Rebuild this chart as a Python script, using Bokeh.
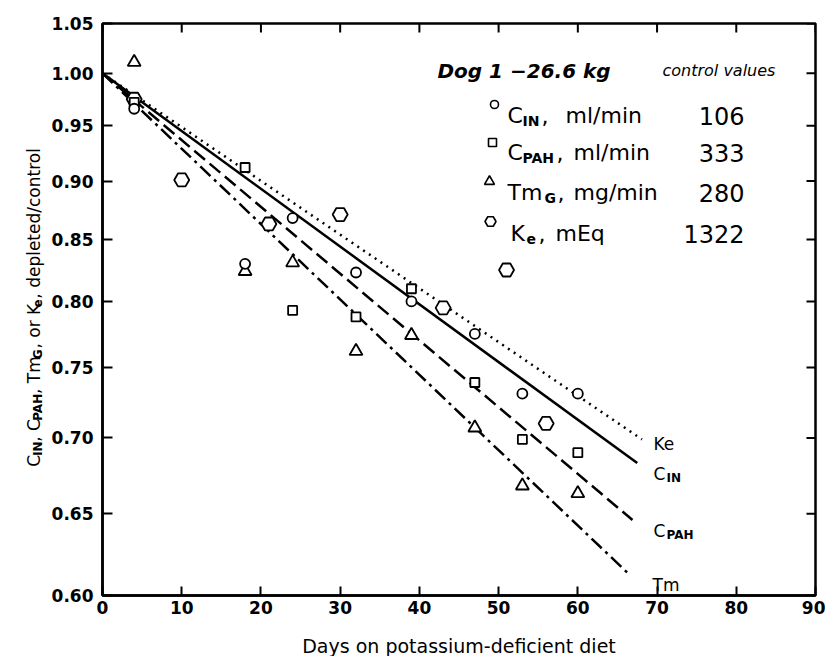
import math
from bokeh.plotting import figure
from bokeh.layouts import row, column
from bokeh.models import FixedTicker, PrintfTickFormatter, Label, Range1d
from bokeh.embed import file_html
from bokeh.resources import INLINE

# ---------------- data ----------------
cin_days = [4, 18, 24, 32, 39, 47, 53, 60]
cin_vals = [0.966, 0.830, 0.868, 0.823, 0.800, 0.775, 0.731, 0.731]

cpah_days = [4, 18, 24, 32, 39, 47, 53, 60]
cpah_vals = [0.972, 0.912, 0.793, 0.788, 0.810, 0.739, 0.699, 0.690]

tm_days = [4, 18, 24, 32, 39, 47, 53, 60]
tm_vals = [1.011, 0.824, 0.831, 0.762, 0.774, 0.707, 0.668, 0.663]

ke_days = [4, 10, 21, 30, 43, 51, 56]
ke_vals = [0.975, 0.901, 0.863, 0.871, 0.795, 0.825, 0.710]

# fitted regression lines (start, end)
fit_ke_days = [0, 68.1]
fit_ke_vals = [1.0, 0.699]
fit_cin_days = [0, 67.5]
fit_cin_vals = [1.0, 0.683]
fit_cpah_days = [0, 66.9]
fit_cpah_vals = [1.0, 0.646]
fit_tm_days = [0, 66.6]
fit_tm_vals = [1.0, 0.612]

x_ticks = [0, 10, 20, 30, 40, 50, 60, 70, 80, 90]
y_ticks = [0.60, 0.65, 0.70, 0.75, 0.80, 0.85, 0.90, 0.95, 1.00, 1.05]

control_values = ["106", "333", "280", "1322"]

# ---------------- geometry helpers (page pixels) ----------------
X_MIN, X_MAX = 0, 90
Y_MIN, Y_MAX = 0.60, 1.05
FL, FR, FT, FB = 102, 815, 23, 595   # frame edges
TOTAL_W = 825
YL_W = 46                            # left strip holding the rotated y title
H = 622                              # height of the main plot row
XT_H = 34                            # bottom strip holding the x title


def px2x(px):
    return X_MIN + (px - FL) / (FR - FL) * (X_MAX - X_MIN)


def py2y(py):
    lt, lb = math.log10(Y_MAX), math.log10(Y_MIN)
    return 10 ** (lt - (py - FT) / (FB - FT) * (lt - lb))


W = {' ': .318, ',': .318, '/': .337, '.': .318, 'C': .698, 'I': .295, 'N': .748,
     'P': .603, 'A': .684, 'H': .752, 'T': .611, 'G': .775, 'K': .656, 'E': .632,
     'm': .974, 'o': .612, 'r': .411, 'e': .615, 'd': .635, 'p': .635, 'l': .278,
     't': .392, 'c': .550, 'n': .634, 'q': .635, 'i': .278, 'g': .635}


def tw(s, size, bold=False):
    return sum(W.get(ch, .6) for ch in s) * size * (1.15 if bold else 1.0)


FONT = "DejaVu Sans"

p = figure(width=TOTAL_W - YL_W, height=H, x_range=Range1d(X_MIN, X_MAX),
           y_range=Range1d(Y_MIN, Y_MAX), y_axis_type="log",
           output_backend="svg", toolbar_location=None,
           min_border_left=FL - YL_W, min_border_right=TOTAL_W - FR,
           min_border_top=FT, min_border_bottom=H - FB)
p.xgrid.visible = False
p.ygrid.visible = False
p.outline_line_color = "black"
p.outline_line_width = 2.5
p.background_fill_color = "white"


def lab(text, px, py, size, style="normal", align="left", baseline="alphabetic"):
    p.add_layout(Label(x=px2x(px), y=py2y(py), text=text, text_font=FONT,
                       text_font_size=f"{size}px", text_font_style=style,
                       text_align=align, text_baseline=baseline, text_color="black"))


# axes
xa = p.xaxis[0]
xa.ticker = FixedTicker(ticks=x_ticks)
ya = p.yaxis[0]
ya.ticker = FixedTicker(ticks=y_ticks)
ya.formatter = PrintfTickFormatter(format="%.2f")
for ax, tin, so in ((xa, 9, 5), (ya, 10, 9)):
    ax.major_tick_in = tin
    ax.major_tick_out = 0
    ax.minor_tick_line_color = None
    ax.major_tick_line_width = 2
    ax.axis_line_width = 2.5
    ax.major_label_text_font = FONT
    ax.major_label_text_font_size = "17px"
    ax.major_label_text_font_style = "bold"
    ax.major_label_text_color = "black"
    ax.major_label_standoff = so

# inward ticks on the top and right edges of the frame
top_y1 = py2y(FT + 9)
p.segment(x0=x_ticks, y0=[Y_MAX] * len(x_ticks), x1=x_ticks, y1=[top_y1] * len(x_ticks),
          line_color="black", line_width=2)
right_x1 = px2x(FR - 9)
p.segment(x0=[X_MAX] * len(y_ticks), y0=y_ticks, x1=[right_x1] * len(y_ticks), y1=y_ticks,
          line_color="black", line_width=2)

# fitted lines
LW = 2.5
p.line(fit_ke_days, fit_ke_vals, line_color="black", line_width=LW, line_dash="2 5")
p.line(fit_cin_days, fit_cin_vals, line_color="black", line_width=LW)
p.line(fit_cpah_days, fit_cpah_vals, line_color="black", line_width=LW, line_dash="14 6")
p.line(fit_tm_days, fit_tm_vals, line_color="black", line_width=LW, line_dash="14 5 3 5")

# data points
p.scatter(ke_days, ke_vals, marker="hex", size=15, line_color="black", line_width=1.8, fill_color="white")
p.scatter(cpah_days, cpah_vals, marker="square", size=9, line_color="black", line_width=1.8, fill_color="white")
p.scatter(tm_days, tm_vals, marker="triangle", size=13, line_color="black", line_width=1.8, fill_color="white")
p.scatter(cin_days, cin_vals, marker="circle", size=10, line_color="black", line_width=1.8, fill_color="white")

# line-end labels
lab("Ke", 653, 443, 17)
lab("C", 653, 473, 17)
lab("IN", 666, 477, 12, "bold")
lab("C", 653, 530, 17)
lab("PAH", 666, 534, 12, "bold")
lab("Tm", 652, 584, 17)

# legend block
lab("Dog 1 \u221226.6 kg", 437, 70, 20, "bold italic")
lab("control values", 662, 70, 16, "italic")

leg_markers = [("circle", 8), ("square", 8), ("triangle", 10), ("hex", 11)]
leg_mx = [494, 492, 489, 490]
leg_my = [104, 142, 181, 221]
for (mk, sz), mx, my in zip(leg_markers, leg_mx, leg_my):
    p.scatter([px2x(mx)], [py2y(my)], marker=mk, size=sz, line_color="black",
              line_width=1.6, fill_color="white")

leg_base = [115, 152, 192, 233]
leg_pieces = [
    [("C", 507, 0), ("IN", 522, 1), (",", 541, 0), ("ml/min", 565, 0)],
    [("C", 507, 0), ("PAH", 522, 1), (",", 556, 0), ("ml/min", 573, 0)],
    [("Tm", 507, 0), ("G", 544, 1), (",", 557, 0), ("mg/min", 573, 0)],
    [("K", 510, 0), ("e", 526, 1), (",", 538, 0), ("mEq", 555, 0)],
]
for pieces, yb in zip(leg_pieces, leg_base):
    for txt, xx, sub in pieces:
        if sub:
            lab(txt, xx, yb + 5, 14, "bold")
        else:
            lab(txt, xx, yb, 22)
for val, yb in zip(control_values, leg_base):
    lab(val, 744, yb, 24, align="right")


def strip(w, h):
    f = figure(width=w, height=h, x_range=Range1d(0, w), y_range=Range1d(0, h),
               output_backend="svg", toolbar_location=None,
               min_border_left=0, min_border_right=0, min_border_top=0, min_border_bottom=0)
    f.axis.visible = False
    f.xgrid.visible = False
    f.ygrid.visible = False
    f.outline_line_color = None
    return f


# ---------------- left strip: rotated y title ----------------
q = strip(YL_W, H)


def qlab(text, px, py, size, style="normal"):
    q.add_layout(Label(x=px, y=H - py, text=text, text_font=FONT,
                       text_font_size=f"{size}px", text_font_style=style,
                       text_align="left", text_baseline="alphabetic",
                       angle=math.pi / 2, text_color="black"))


ylab_pieces = [("C", 0), ("IN", 1), (", C", 0), ("PAH", 1), (", Tm", 0), ("G", 1),
               (", or K", 0), ("e", 1), (", depleted/control", 0)]
MAIN, SUB = 17, 12
ypos = 482
for txt, sub in ylab_pieces:
    if sub:
        qlab(txt, 37, ypos, SUB, "bold")
        ypos -= tw(txt, SUB, True) + 1
    else:
        qlab(txt, 33, ypos, MAIN)
        ypos -= tw(txt, MAIN)

# ---------------- bottom strip: x title ----------------
r = strip(TOTAL_W, XT_H)
r.add_layout(Label(x=(FL + FR) / 2, y=H + XT_H - 645, text="Days on potassium-deficient diet",
                   text_font=FONT, text_font_size="19px", text_align="center",
                   text_baseline="alphabetic", text_color="black"))

layout = column(row(q, p, spacing=0), r, spacing=0)
open("out.html", "w").write(file_html(layout, INLINE))
